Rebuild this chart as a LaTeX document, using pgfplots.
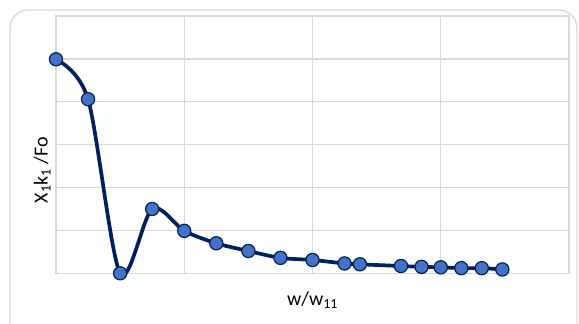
\documentclass[border=0pt]{standalone}
\usepackage{pgfplots}
\pgfplotsset{compat=1.18}
\usepackage{fontspec}
\setmainfont{Carlito}
\definecolor{navy}{RGB}{0,32,96}
\definecolor{mfill}{RGB}{68,114,196}
\definecolor{gridc}{RGB}{217,217,217}
\begin{document}
\begin{tikzpicture}
\begin{axis}[
 scale only axis, width=513bp, height=257.3bp,
 xmin=0, xmax=4, ymin=0, ymax=6,
 xtick={0,1,2,3,4}, ytick={0,1,2,3,4,5,6},
 xticklabels={}, yticklabels={},
 major tick length=0pt,
 grid=major, grid style={gridc, line width=1.3bp},
 axis line style={gridc, line width=1.3bp},
 xlabel={w/w\textsubscript{11}}, ylabel={X\textsubscript{1}k\textsubscript{1} /Fo},
 label style={font=\fontsize{20}{23}\selectfont},
 xlabel style={at={(axis description cs:0.5,-0.105)}, anchor=center},
 ylabel style={at={(axis description cs:-0.027,0.401)}, anchor=center},
 clip=false,
]
\addplot[navy, line width=3.7bp, smooth, tension=0.5, mark=*, mark size=6.6bp,
  mark options={fill=mfill, draw=navy, line width=1.2bp}] coordinates {
 (0,4.99) (0.25,4.06) (0.5,0.0) (0.75,1.50) (1.0,0.99) (1.25,0.70) (1.5,0.52)
 (1.75,0.36) (2.0,0.31) (2.25,0.23) (2.37,0.21) (2.69,0.17) (2.85,0.15)
 (3.0,0.14) (3.16,0.12) (3.32,0.12) (3.48,0.09)
};
\end{axis}
\draw[gridc, line width=1.3bp, rounded corners=18bp] ([shift={(-46bp,-80bp)}]current axis.south west) rectangle ([shift={(8bp,6bp)}]current axis.north east);
\pgfresetboundingbox
\path[use as bounding box] ([shift={(-56bp,-50.7bp)}]current axis.south west) rectangle ([shift={(10bp,16bp)}]current axis.north east);
\end{tikzpicture}
\end{document}
